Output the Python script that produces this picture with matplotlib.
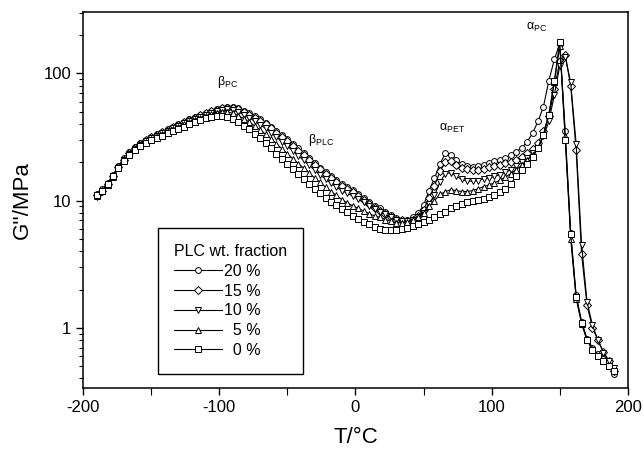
import numpy as np
import matplotlib
matplotlib.use('Agg')
import matplotlib.pyplot as plt
from matplotlib.ticker import LogLocator, FixedLocator, NullFormatter, FuncFormatter

plt.rcParams['font.family'] = ['Liberation Sans', 'DejaVu Sans']
plt.rcParams['mathtext.fontset'] = 'custom'
plt.rcParams['mathtext.rm'] = 'Liberation Sans'
plt.rcParams['mathtext.it'] = 'Liberation Sans:italic'
plt.rcParams['axes.unicode_minus'] = False

# temperatures of the measured points (every 4 °C)
temp_c = np.arange(-190, 191, 4)

# G'' in MPa, 12 values per row
g_20 = [11.2, 12.3, 13.8, 16.0, 18.8, 21.5, 24.0, 26.3, 28.3, 30.0, 31.6, 33.2,
        34.8, 36.5, 38.2, 40.0, 41.8, 43.6, 45.4, 47.2, 49.0, 50.8, 52.5, 54.0,
        55.0, 54.6, 53.2, 51.0, 48.5, 46.0, 43.5, 40.8, 38.0, 35.2, 32.8, 30.4,
        28.0, 25.8, 23.6, 21.6, 19.8, 18.2, 16.8, 15.6, 14.5, 13.6, 12.9, 12.2,
        11.3, 10.5, 9.7, 9.1, 8.7, 8.1, 7.7, 7.3, 7.1, 7.1, 7.4, 8.0,
        9.2, 12.0, 15.0, 19.5, 23.5, 23.0, 21.0, 19.5, 18.8, 18.5, 18.7, 19.2,
        19.8, 20.4, 21.0, 21.8, 22.8, 24.2, 26.0, 29.0, 34.0, 42.0, 55.0, 88.0,
        129, 172, 35, 5.6, 1.8, 1.12, 0.82, 0.70, 0.62, 0.57, 0.51, 0.43]
g_15 = [11.0, 12.0, 13.5, 15.6, 18.3, 21.0, 23.6, 26.0, 28.0, 29.8, 31.4, 33.0,
        34.6, 36.2, 37.9, 39.6, 41.4, 43.2, 45.0, 46.8, 48.6, 50.4, 52.0, 53.3,
        54.0, 53.6, 52.2, 50.0, 47.6, 45.0, 42.4, 39.8, 37.0, 34.3, 31.8, 29.4,
        27.0, 24.8, 22.8, 20.9, 19.2, 17.6, 16.2, 15.0, 14.0, 13.1, 12.4, 11.7,
        10.9, 10.1, 9.4, 8.8, 8.3, 7.8, 7.4, 7.1, 7.0, 6.9, 7.1, 7.6,
        8.5, 10.5, 13.0, 17.0, 20.0, 20.4, 19.2, 18.0, 17.6, 17.4, 17.5, 17.9,
        18.4, 18.8, 19.2, 19.7, 20.3, 21.0, 22.0, 23.5, 25.5, 28.5, 35.0, 46.0,
        75, 125, 140, 80, 25, 3.8, 1.5, 1.0, 0.80, 0.65, 0.55, 0.46]
g_10 = [10.6, 11.8, 13.4, 15.5, 18.2, 20.8, 23.3, 25.6, 27.6, 29.4, 31.0, 32.5,
        34.0, 35.6, 37.2, 38.9, 40.6, 42.3, 44.0, 45.8, 47.5, 49.2, 50.7, 51.8,
        52.2, 51.6, 50.0, 47.6, 45.0, 42.3, 39.6, 37.0, 34.3, 31.6, 29.1, 26.8,
        24.6, 22.6, 20.7, 19.0, 17.4, 16.0, 14.8, 13.7, 12.8, 12.0, 11.4, 10.9,
        10.3, 9.7, 9.1, 8.6, 8.2, 7.8, 7.4, 7.1, 6.9, 6.9, 7.0, 7.4,
        8.0, 9.5, 11.0, 14.0, 16.3, 16.6, 15.6, 14.7, 14.3, 14.2, 14.4, 14.8,
        15.1, 15.5, 16.0, 16.7, 17.5, 18.6, 20.0, 21.5, 23.5, 26.0, 32.0, 42.0,
        68, 115, 135, 85, 28, 4.5, 1.6, 1.05, 0.80, 0.64, 0.55, 0.48]
g_5 = [10.8, 11.9, 13.4, 15.4, 18.0, 20.6, 23.0, 25.3, 27.3, 29.0, 30.6, 32.0,
       33.5, 35.0, 36.6, 38.2, 39.8, 41.5, 43.2, 44.8, 46.4, 48.0, 49.3, 50.0,
       49.8, 48.7, 46.6, 44.2, 41.5, 38.8, 36.0, 33.3, 30.6, 28.0, 25.6, 23.4,
       21.4, 19.6, 18.0, 16.5, 15.1, 13.9, 12.8, 11.8, 11.0, 10.2, 9.6, 9.1,
       8.7, 8.3, 7.9, 7.6, 7.4, 7.1, 6.9, 6.7, 6.7, 6.8, 7.0, 7.4,
       8.0, 9.0, 10.0, 11.2, 11.8, 12.2, 12.0, 11.8, 11.8, 12.0, 12.4, 12.9,
       13.3, 13.8, 14.5, 15.3, 16.3, 17.5, 19.0, 21.0, 23.0, 26.0, 33.0, 48.0,
       85, 165, 32, 5.0, 1.7, 1.08, 0.80, 0.68, 0.60, 0.55, 0.50, 0.46]
g_0 = [11.0, 12.0, 13.5, 15.5, 18.0, 20.5, 22.8, 25.0, 26.8, 28.4, 29.8, 31.1,
       32.4, 33.8, 35.2, 36.7, 38.2, 39.8, 41.4, 43.0, 44.4, 45.6, 46.4, 46.5,
       45.6, 43.8, 41.5, 39.0, 36.3, 33.6, 31.0, 28.4, 25.8, 23.4, 21.2, 19.3,
       17.6, 16.1, 14.8, 13.5, 12.4, 11.4, 10.5, 9.8, 9.2, 8.6, 8.1, 7.6,
       7.2, 6.8, 6.5, 6.2, 6.0, 5.9, 5.9, 5.9, 6.0, 6.1, 6.3, 6.6,
       6.8, 7.1, 7.4, 7.8, 8.2, 8.7, 9.1, 9.5, 9.7, 9.9, 10.1, 10.4,
       10.6, 11.0, 11.6, 12.4, 13.6, 15.5, 17.5, 19.5, 22.0, 26.0, 33.0, 47.0,
       88, 178, 30, 5.5, 1.75, 1.1, 0.80, 0.67, 0.60, 0.55, 0.50, 0.46]

series = [(g_20, 'o', '20 %'), (g_15, 'D', '15 %'), (g_10, 'v', '10 %'),
          (g_5, '^', '\u20075 %'), (g_0, 's', '\u20070 %')]

# peak labels: (text, T, G'')
peak_labels = [(r'$\mathrm{\beta}_{\mathrm{PC}}$', -94, 85),
               (r'$\mathrm{\beta}_{\mathrm{PLC}}$', -25, 30),
               (r'$\mathrm{\alpha}_{\mathrm{PET}}$', 71, 37),
               (r'$\mathrm{\alpha}_{\mathrm{PC}}$', 133, 230)]

fig = plt.figure(figsize=(6.44, 4.58), dpi=100)
ax = fig.add_axes([0.129, 0.153, 0.846, 0.821])

for vals, mk, lab in series:
    ms = 3.6 if mk == 'D' else 4.2
    ax.plot(temp_c, vals, color='black', lw=0.8, marker=mk, ms=ms,
            mfc='white', mec='black', mew=0.7, label=lab)

ax.set_yscale('log')
ax.set_xlim(-200, 200)
ax.set_ylim(0.337, 305)
ax.xaxis.set_major_locator(FixedLocator([-200, -100, 0, 100, 200]))
ax.xaxis.set_minor_locator(FixedLocator([-150, -50, 50, 150]))
ax.yaxis.set_major_locator(LogLocator(base=10))
ax.yaxis.set_minor_locator(LogLocator(base=10, subs=np.arange(2, 10)))
ax.yaxis.set_minor_formatter(NullFormatter())
ax.yaxis.set_major_formatter(FuncFormatter(lambda v, p: '%g' % v))
ax.tick_params(axis='both', which='major', direction='out', length=5, width=1.0,
               labelsize=12, top=False, right=False)
ax.tick_params(axis='both', which='minor', direction='out', length=3, width=0.8,
               top=False, right=False)
ax.tick_params(axis='x', which='minor', length=5)
for sp in ax.spines.values():
    sp.set_linewidth(1.1)

ax.set_xlabel('T/°C', fontsize=16, labelpad=9)
ax.set_ylabel("G''/MPa", fontsize=16, labelpad=8)

for txt, tx, gy in peak_labels:
    ax.text(tx, gy, txt, fontsize=9, ha='center', va='center')

leg = ax.legend(title='PLC wt. fraction', loc='lower left',
                bbox_to_anchor=(0.1376, 0.037), borderaxespad=0,
                fontsize=11.5, title_fontsize=11.5,
                frameon=True, fancybox=False, edgecolor='black', framealpha=1,
                handlelength=3.0, handletextpad=0.15, labelspacing=0.3,
                borderpad=1.0, alignment='left')
leg.get_frame().set_linewidth(1.0)

fig.savefig('out.png', dpi=100)
